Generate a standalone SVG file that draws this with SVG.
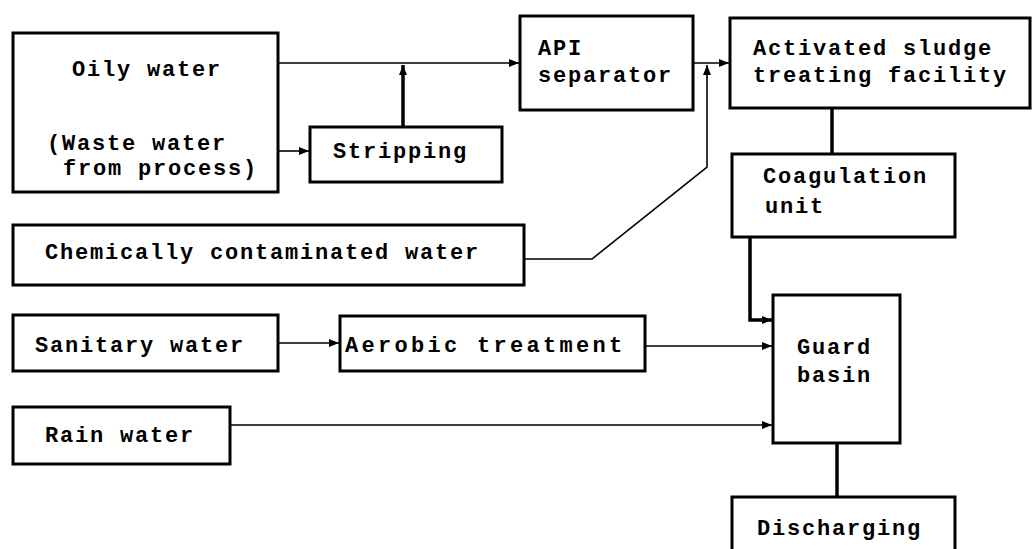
<svg xmlns="http://www.w3.org/2000/svg" width="1035" height="549" viewBox="0 0 1035 549">
<style>
.box{fill:#fff;stroke:#000;stroke-width:3}
.t{font-family:"Liberation Mono","DejaVu Sans Mono",monospace;font-weight:bold;font-size:22px;letter-spacing:1.8px;fill:#000}
.c{fill:none;stroke:#000;stroke-width:1.6}
.ct{fill:none;stroke:#000;stroke-width:3.5}
</style>
<defs>
<marker id="ah" viewBox="0 0 10 10" refX="10" refY="5" markerWidth="10" markerHeight="10" markerUnits="userSpaceOnUse" orient="auto">
<path d="M0,1 L10,5 L0,9 z" fill="#000"/>
</marker>
</defs>
<rect width="1035" height="549" fill="#fff"/>
<g id="connectors">
<path class="c" d="M278,63 H519" marker-end="url(#ah)"/>
<path class="ct" d="M403,127 V65" marker-end="url(#ah)"/>
<path class="c" d="M278,151 H309" marker-end="url(#ah)"/>
<path class="c" d="M693,63 H729" marker-end="url(#ah)"/>
<path class="c" d="M524,259 H592 L707,167 V65" marker-end="url(#ah)"/>
<path class="ct" d="M832,108 V154"/>
<path class="ct" d="M750,237 V320 H772" marker-end="url(#ah)"/>
<path class="c" d="M278,343 H339" marker-end="url(#ah)"/>
<path class="c" d="M645,346 H772" marker-end="url(#ah)"/>
<path class="c" d="M230,425 H772" marker-end="url(#ah)"/>
<path class="ct" d="M837,443 V497"/>
</g>
<g id="oily">
<rect class="box" x="13" y="33" width="265" height="159"/>
<text class="t" x="72" y="76">Oily water</text>
<text class="t" x="47" y="150">(Waste water</text>
<text class="t" x="63" y="175">from process)</text>
</g>
<g id="stripping">
<rect class="box" x="310" y="127" width="192" height="55"/>
<text class="t" x="333" y="158">Stripping</text>
</g>
<g id="api">
<rect class="box" x="520" y="16" width="173" height="94"/>
<text class="t" x="538" y="55">API</text>
<text class="t" x="538" y="82">separator</text>
</g>
<g id="activated">
<rect class="box" x="730" y="18" width="300" height="90"/>
<text class="t" x="753" y="55">Activated sludge</text>
<text class="t" x="753" y="82">treating facility</text>
</g>
<g id="coagulation">
<rect class="box" x="732" y="154" width="223" height="83"/>
<text class="t" x="763" y="183">Coagulation</text>
<text class="t" x="765" y="213">unit</text>
</g>
<g id="chemical">
<rect class="box" x="13" y="225" width="511" height="60"/>
<text class="t" x="45" y="259">Chemically contaminated water</text>
</g>
<g id="sanitary">
<rect class="box" x="13" y="315" width="265" height="56"/>
<text class="t" x="35" y="352">Sanitary water</text>
</g>
<g id="aerobic">
<rect class="box" x="340" y="316" width="305" height="55"/>
<text class="t" x="345" y="352" style="letter-spacing:3.3px">Aerobic treatment</text>
</g>
<g id="rain">
<rect class="box" x="13" y="407" width="217" height="57"/>
<text class="t" x="45" y="442">Rain water</text>
</g>
<g id="guard">
<rect class="box" x="773" y="295" width="127" height="148"/>
<text class="t" x="797" y="354">Guard</text>
<text class="t" x="797" y="382">basin</text>
</g>
<g id="discharging">
<rect class="box" x="732" y="497" width="223" height="70"/>
<text class="t" x="757" y="535">Discharging</text>
</g>
</svg>
